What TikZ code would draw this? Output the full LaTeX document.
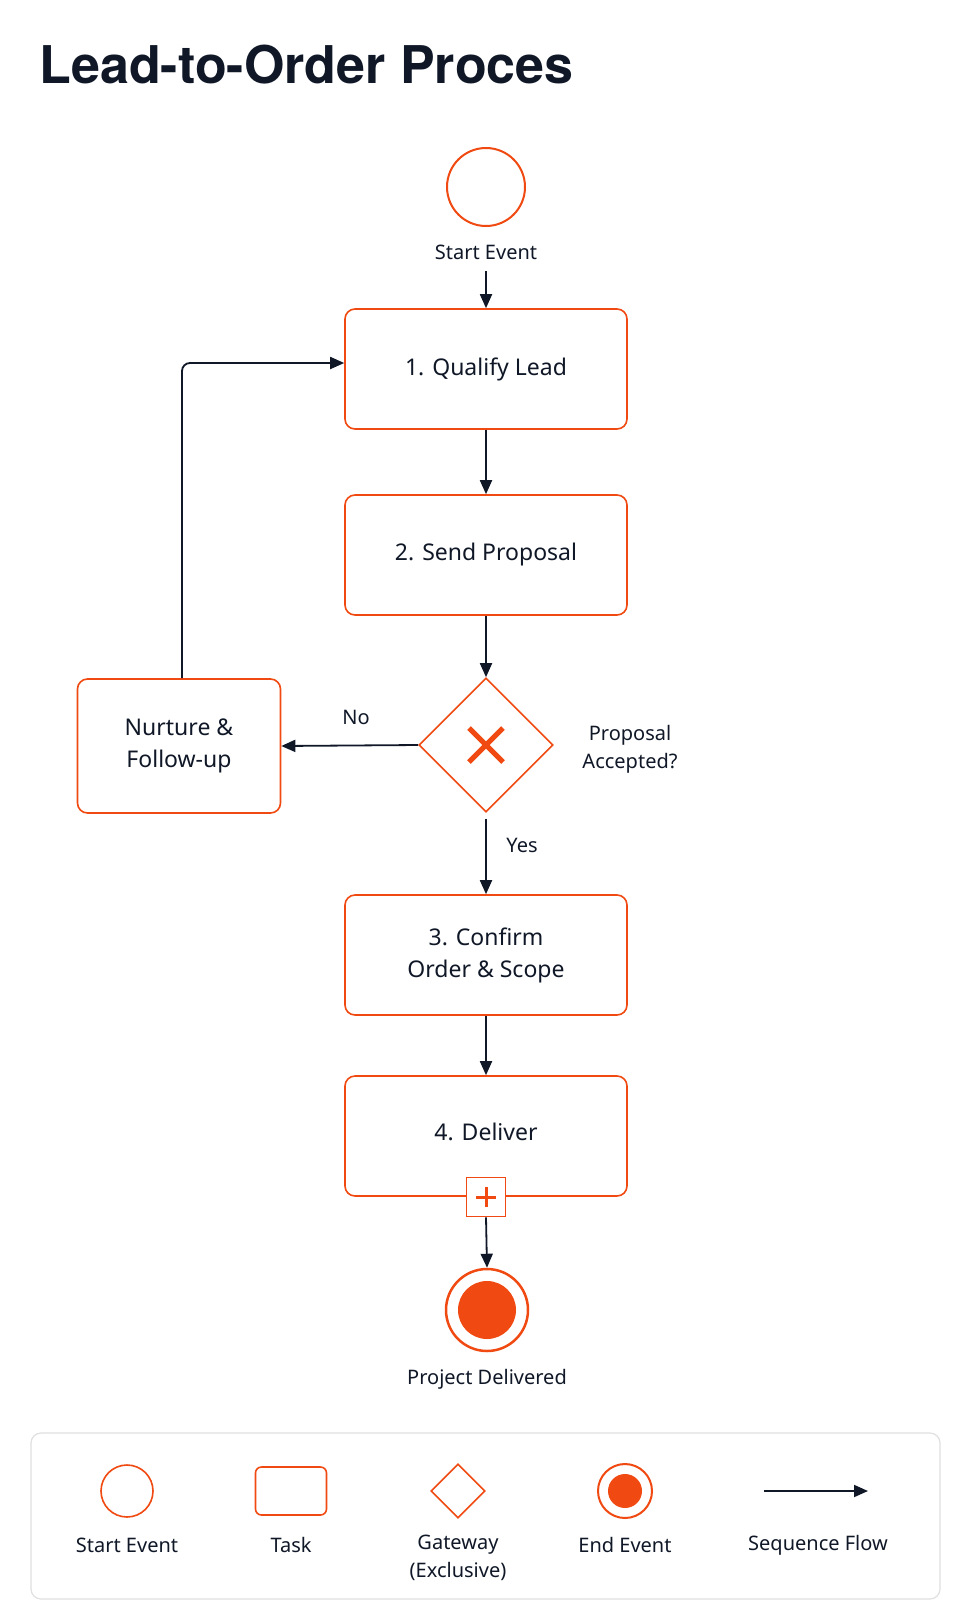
\documentclass[tikz,border=0pt]{standalone}
\usepackage{fontspec}
\setmainfont{Noto Sans}
\newfontfamily\titlefont{TeX Gyre Heros}[BoldFont=* Bold]
\usetikzlibrary{shapes.geometric,arrows.meta}
\definecolor{org}{HTML}{F04A12}
\definecolor{ink}{HTML}{101828}
\begin{document}
\begin{tikzpicture}[x=1pt,y=-1pt,
  task/.style={draw=org,line width=1.6pt,rounded corners=10pt,minimum width=282pt,minimum height=120pt,align=center,font=\fontsize{23}{32}\selectfont,text=ink,fill=white},
  lbl/.style={font=\fontsize{20}{28}\selectfont,text=ink,align=center},
  flow/.style={draw=ink,line width=1.8pt,-{Triangle[length=14pt,width=12pt]}}]
\useasboundingbox[fill=white] (0,0) rectangle (972,1619);
\node[anchor=base west,font=\titlefont\fontsize{52}{60}\bfseries\selectfont,text=ink] (title) at (36,83) {Lead-to-Order Proces};
\node[circle,draw=org,line width=2pt,minimum size=78pt] (start) at (486,187) {};
\node[lbl] (startl) at (486,252) {Start Event};
\node[task] (t1) at (486,369) {1. Qualify Lead};
\node[task] (t2) at (486,555) {2. Send Proposal};
\node[diamond,draw=org,line width=1.6pt,minimum width=134pt,minimum height=134pt,inner sep=0] (gw) at (486,745) {};
\draw[org,line width=5pt] (gw.center) ++(-17,-17) -- ++(34,34) (gw.center) ++(17,-17) -- ++(-34,34);
\node[lbl] (gwl) at (630,749) {Proposal\\Accepted?};
\node[task,minimum width=203pt,minimum height=134pt] (nf) at (179,746) {Nurture \&\\Follow-up};
\node[task] (t3) at (486,955) {3. Confirm\\Order \& Scope};
\node[task] (t4) at (486,1136) {};
\node[lbl,font=\fontsize{23}{32}\selectfont] (t4l) at (486,1132) {4. Deliver};
\node[rectangle,draw=org,line width=1.6pt,fill=white,minimum size=39pt,inner sep=0] (plus) at (486,1197) {};
\draw[org,line width=3pt] (plus.center) ++(-10,0) -- ++(20,0) (plus.center) ++(0,-10) -- ++(0,20);
\node[circle,draw=org,line width=2.5pt,minimum size=82pt] (end) at (487,1310) {};
\node[circle,fill=org,minimum size=58pt] (endin) at (487,1310) {};
\node[lbl] (endl) at (487,1379) {Project Delivered};
\coordinate (s1) at (486,271);
\draw[flow] (s1) -- (t1.north);
\draw[flow] (t1.south) -- (t2.north);
\draw[flow] (t2.south) -- (gw.north);
\draw[flow] (gw.west) -- (nf.east);
\node[lbl] (no) at (356,717) {No};
\coordinate (gs) at (486,819);
\draw[flow] (gs) -- (t3.north);
\node[lbl] (yes) at (522,845) {Yes};
\draw[flow] (t3.south) -- (t4.north);
\draw[flow] (plus.south) -- (end.north);
\coordinate (lp) at (182,363);
\draw[flow,rounded corners=8pt] (nf.north -| lp) -- (lp) -- (t1.west |- lp);
% legend
\node[draw=black!12,line width=1.2pt,rounded corners=10pt,minimum width=909pt,minimum height=166pt,fill=white] (leg) at (485.5,1516) {};
\node[circle,draw=org,line width=1.6pt,minimum size=52pt] (ls) at (127,1491) {};
\node[draw=org,line width=1.6pt,rounded corners=6pt,minimum width=71pt,minimum height=48pt] (lt) at (291,1491) {};
\node[diamond,draw=org,line width=1.6pt,minimum width=54pt,minimum height=54pt,inner sep=0] (lg) at (458,1491) {};
\node[circle,draw=org,line width=2pt,minimum size=54pt] (le) at (625,1491) {};
\node[circle,fill=org,minimum size=34pt] (lei) at (625,1491) {};
\coordinate (la1) at (764,1491); \coordinate (la2) at (868,1491);
\draw[flow] (la1) -- (la2);
\node[lbl] (l1) at (127,1545) {Start Event};
\node[lbl] (l2) at (291,1545) {Task};
\node[lbl,align=center] (l3) at (458,1558) {Gateway\\(Exclusive)};
\node[lbl] (l4) at (625,1545) {End Event};
\node[lbl] (l5) at (818,1545) {Sequence Flow};
\end{tikzpicture}
\end{document}
